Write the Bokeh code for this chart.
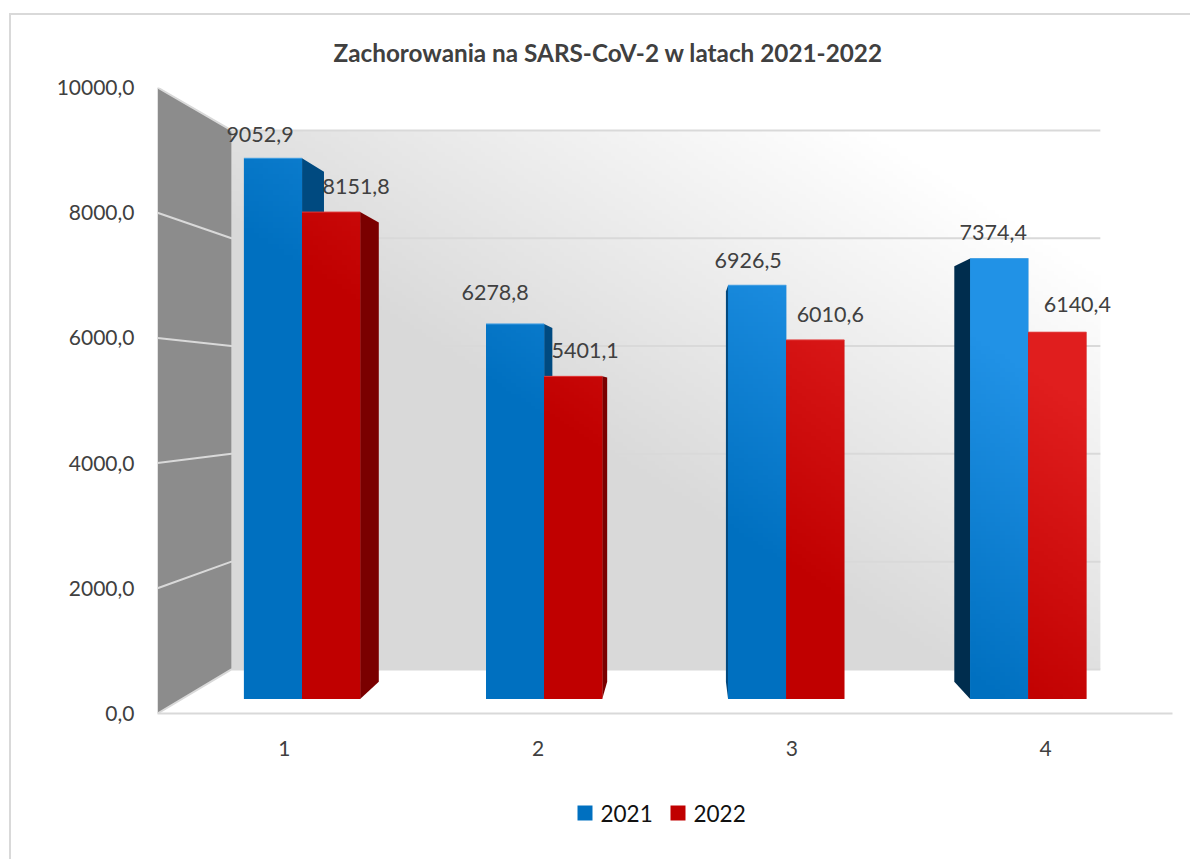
import numpy as np
from bokeh.core.properties import value
from bokeh.embed import file_html
from bokeh.models import ColumnDataSource, FixedTicker, Range1d, Title
from bokeh.plotting import figure
from bokeh.resources import INLINE

# ---- data ----
categories = [1, 2, 3, 4]
series_names = ["2021", "2022"]
values_2021 = [9052.9, 6278.8, 6926.5, 7374.4]
values_2022 = [8151.8, 5401.1, 6010.6, 6140.4]
y_tick_values = [0, 2000, 4000, 6000, 8000, 10000]
title_text = "Zachorowania na SARS-CoV-2 w latach 2021-2022"

# ---- styling and layout ----
FONT = "Lato"
TEXT = "#404040"
BLUE, RED = "#0070c0", "#c00000"
BLUE_LIGHT, RED_LIGHT = (33, 146, 230), (224, 30, 30)
BLUE_SIDES = ["#004a80", "#004a80", "#034a7f", "#002d4e"]
RED_SIDES = ["#7a0000", "#7a0000", "#7a0000", "#7a0000"]
WALL = "#8c8c8c"
GRID = "#d9d9d9"

FIG_LEFT, FIG_TOP = 11, 15
FRAME_L, FRAME_T, FRAME_R, FRAME_B = 157, 87, 1172, 713

# perspective of the pseudo-3D box, expressed in data units
XMIN, XMAX, YMIN, YMAX = 0.5, 4.5, 0, 10000
VX, VY = 2.597, 5064.0
T_WALL, T_BAR_FRONT, T_BAR_BACK = 0.139, 0.046, 0.10
BAR_W = 0.24
BAR_SHIFT = -0.004
WALL_XMAX = 4.477


def proj(x, y, t):
    return VX + (x - VX) * (1 - t), VY + (y - VY) * (1 - t)


def page_x(px):
    return XMIN + (px - FRAME_L) * (XMAX - XMIN) / (FRAME_R - FRAME_L)


def page_y(py):
    return YMIN + (FRAME_B - py) * (YMAX - YMIN) / (FRAME_B - FRAME_T)


bx0, by0 = proj(XMIN, YMIN, T_WALL)
bx1, by1 = proj(WALL_XMAX, YMAX, T_WALL)


def shade(x, y):
    u = (x - bx0) / (bx1 - bx0)
    v = (y - by0) / (by1 - by0)
    return np.clip(1.1 * (u + v) - 0.9, 0, 1)


def gradient_image(x0, x1, y0, y1, low, high, nx, ny, gain=1.0):
    xs = np.linspace(x0, x1, nx)
    ys = np.linspace(y0, y1, ny)
    xx, yy = np.meshgrid(xs, ys)
    g = np.clip(shade(xx, yy) * gain, 0, 1)
    out = np.zeros((ny, nx), dtype=np.uint32)
    view = out.view(dtype=np.uint8).reshape((ny, nx, 4))
    for i in range(3):
        view[:, :, i] = (low[i] + (high[i] - low[i]) * g).astype(np.uint8)
    view[:, :, 3] = 255
    return out


p = figure(
    width=1190 - FIG_LEFT,
    height=859 - FIG_TOP,
    frame_width=FRAME_R - FRAME_L,
    frame_height=FRAME_B - FRAME_T,
    min_border_left=FRAME_L - FIG_LEFT,
    min_border_right=1190 - FRAME_R,
    min_border_top=FRAME_T - FIG_TOP,
    min_border_bottom=859 - FRAME_B,
    x_range=Range1d(XMIN, XMAX),
    y_range=Range1d(YMIN, YMAX),
    toolbar_location=None,
    output_backend="svg",
    background_fill_color="white",
    border_fill_color="white",
    outline_line_color=None,
)
p.styles = {
    "border-left": "2px solid #d9d9d9",
    "border-top": "2px solid #d9d9d9",
    "margin-left": "9px",
    "margin-top": "13px",
}
p.grid.visible = False

# axes
p.xaxis.ticker = FixedTicker(ticks=categories)
p.xaxis.major_tick_line_color = None
p.xaxis.minor_tick_line_color = None
p.xaxis.axis_line_color = GRID
p.xaxis.axis_line_width = 2
p.xaxis.major_label_standoff = 21
p.xaxis.major_label_text_font = FONT
p.xaxis.major_label_text_font_size = "21px"
p.xaxis.major_label_text_color = TEXT

p.yaxis.ticker = FixedTicker(ticks=y_tick_values)
p.yaxis.major_label_overrides = {v: f"{v:.1f}".replace(".", ",") for v in y_tick_values}
p.yaxis.major_tick_line_color = None
p.yaxis.minor_tick_line_color = None
p.yaxis.axis_line_color = None
p.yaxis.major_label_standoff = 17
p.yaxis.major_label_text_font = FONT
p.yaxis.major_label_text_font_size = "21px"
p.yaxis.major_label_text_color = TEXT

# title
p.title = Title(
    text=title_text,
    align="left",
    offset=176,
    standoff=41,
    text_font=FONT,
    text_font_style="bold",
    text_font_size="24.3px",
    text_color=TEXT,
)

# back wall with diagonal gradient
wall_img = gradient_image(bx0, bx1, by0, by1, (217, 217, 217), (255, 255, 255), 220, 140)
p.image_rgba(image=[wall_img], x=[bx0], y=[by0], dw=[bx1 - bx0], dh=[by1 - by0])

# left wall
lx0, ly0 = proj(XMIN, YMIN, T_WALL)
lx1, ly1 = proj(XMIN, YMAX, T_WALL)
p.patch([XMIN, lx1, lx0, XMIN], [YMAX, ly1, ly0, YMIN], fill_color=WALL, line_color=None)

# gridlines, over both walls
for t in y_tick_values:
    ax, ay = proj(XMIN, t, 0)
    cx, cy = proj(XMIN, t, T_WALL)
    dx, dy = proj(WALL_XMAX, t, T_WALL)
    p.line([ax, cx, dx], [ay, cy, dy], line_color=GRID, line_width=2)

# side faces of the bars
side_xs, side_ys, side_cols = [], [], []
for vals, offs, cols in ((values_2021, (-BAR_W, 0), BLUE_SIDES), (values_2022, (0, BAR_W), RED_SIDES)):
    for c, v, col in zip(categories, vals, cols):
        left, right = c + offs[0] + BAR_SHIFT, c + offs[1] + BAR_SHIFT
        if proj(right, 0, T_BAR_FRONT)[0] < VX:
            edge = right
        else:
            edge = left
        fx0, fy0 = proj(edge, 0, T_BAR_FRONT)
        fx1, fy1 = proj(edge, v, T_BAR_FRONT)
        kx1, ky1 = proj(edge, v, T_BAR_BACK)
        kx0, ky0 = proj(edge, 0, T_BAR_BACK)
        side_xs.append([fx0, fx1, kx1, kx0])
        side_ys.append([fy0, fy1, ky1, ky0])
        side_cols.append(col)
p.patches(side_xs, side_ys, fill_color=side_cols, line_color=None)


def front(vals, offs):
    l, r, b, t = [], [], [], []
    for c, v in zip(categories, vals):
        x0, y0 = proj(c + offs[0] + BAR_SHIFT, 0, T_BAR_FRONT)
        x1, y1 = proj(c + offs[1] + BAR_SHIFT, v, T_BAR_FRONT)
        l.append(x0); r.append(x1); b.append(y0); t.append(y1)
    return l, r, b, t


for vals, offs, base, low, high, edge_col in (
    (values_2021, (-BAR_W, 0), BLUE, (0, 112, 192), BLUE_LIGHT, "#4aa3e4"),
    (values_2022, (0, BAR_W), RED, (192, 0, 0), RED_LIGHT, "#e23a3a"),
):
    l, r, b, t = front(vals, offs)
    p.quad(left=l, right=r, bottom=b, top=t, fill_color=base, line_color=None)
    for a, z, bb, tt in zip(l, r, b, t):
        img = gradient_image(a, z, bb, tt, low, high, 12, 100, gain=1.4)
        p.image_rgba(image=[img], x=[a], y=[bb], dw=[z - a], dh=[tt - bb])
    p.segment(x0=l, x1=r, y0=t, y1=t, line_color=edge_col, line_width=1)

# data labels, placed with per-label pixel offsets from each bar's top centre
label_dx_2021 = [-13, -20, -9, -6]
label_dx_2022 = [25, 12, 15, 20]
label_dy_2021 = [24, 31, 25, 26]
label_dy_2022 = [26, 26, 25, 28]
lx, ly, lt, ldx, ldy = [], [], [], [], []
for vals, offs, dxs, dys in (
    (values_2021, (-BAR_W, 0), label_dx_2021, label_dy_2021),
    (values_2022, (0, BAR_W), label_dx_2022, label_dy_2022),
):
    l, r, b, t = front(vals, offs)
    for a, z, tt, v, dx, dy in zip(l, r, t, vals, dxs, dys):
        lx.append((a + z) / 2); ly.append(tt)
        lt.append(f"{v:.1f}".replace(".", ","))
        ldx.append(dx); ldy.append(-dy)
src = ColumnDataSource(dict(x=lx, y=ly, text=lt, dx=ldx, dy=ldy))
p.text(x="x", y="y", text="text", x_offset="dx", y_offset="dy", source=src,
       text_font=value(FONT), text_font_size="21.5px", text_color=TEXT,
       text_align="center", text_baseline="middle")

# legend: drawn above the frame clip, below the x axis
legend_swatch_x = [577, 670]
legend_colors = [BLUE, RED]
for name, sx, col in zip(series_names, legend_swatch_x, legend_colors):
    p.quad(left=[page_x(sx)], right=[page_x(sx + 15)],
           bottom=[page_y(820)], top=[page_y(805)],
           fill_color=col, line_color=None, level="overlay")
    p.text(x=[page_x(sx + 23)], y=[page_y(812.5)], text=[name],
           text_font=value(FONT), text_font_size="22.5px", text_color="#111111",
           text_align="left", text_baseline="middle", level="overlay")

open("out.html", "w").write(file_html(p, INLINE))
